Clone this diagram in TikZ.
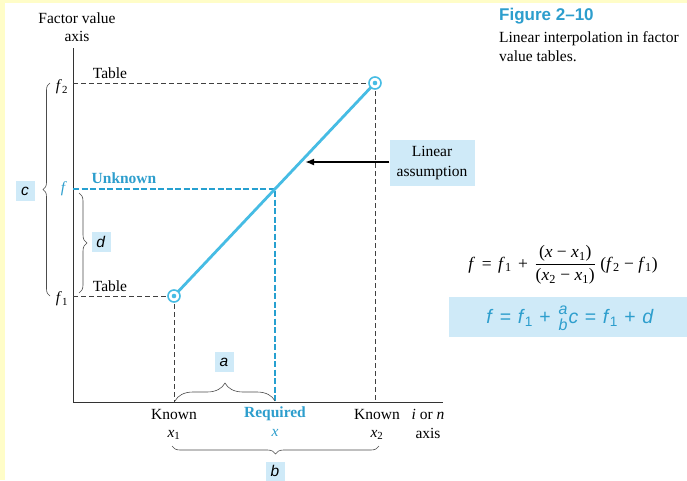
\documentclass[tikz,border=0pt]{standalone}
\usepackage{amsmath}
\usepackage{fontspec}
\setmainfont{Liberation Serif}
\setsansfont{Liberation Sans}
\usepackage{tikz}
\usetikzlibrary{arrows.meta,decorations.pathreplacing}
\definecolor{lineblue}{RGB}{70,188,228}
\definecolor{dashblue}{RGB}{38,160,208}
\definecolor{textblue}{RGB}{45,158,205}
\definecolor{boxblue}{RGB}{207,234,248}
\definecolor{paleyellow}{RGB}{255,253,200}
\newcommand{\mv}[1]{\textit{#1}}
\newcommand{\sfit}[1]{\textsf{\textit{#1}}}
\newcommand{\smallsf}[1]{\text{\fontsize{16}{16}\selectfont\sfit{#1}}}
\newcommand{\op}[1]{\hspace{6.5pt}#1\hspace{6.5pt}}

\begin{document}
\begin{tikzpicture}[x=1pt,y=-1pt,font=\fontsize{15.5}{18}\selectfont,
 lbl/.style={inner sep=0pt,align=center},
 bx/.style={fill=boxblue,inner sep=0pt,minimum width=19pt,minimum height=20pt},
 dsh/.style={line width=0.7pt,black!75,dash pattern=on 5pt off 3pt},
 bdsh/.style={line width=2.6pt,dashblue,dash pattern=on 6pt off 2.5pt},
 brc/.style={decorate,decoration={brace,amplitude=#1},line width=0.6pt,black!70},
 ar/.style={-{Latex[length=9pt,width=7pt]},line width=1.8pt},
 pt/.style={circle,draw=lineblue,fill=white,line width=1.6pt,minimum size=12pt,inner sep=0pt,
   path picture={\fill[lineblue] (path picture bounding box.center) circle (2.3pt);}}]
% frame
\useasboundingbox (0,0) rectangle (687,480);
\fill[white] (0,0) rectangle (687,480);
\fill[paleyellow] (0,0) rectangle (687,3);
\fill[paleyellow] (0,0) rectangle (5,480);

% axes
\coordinate (ytop) at (73,48);
\coordinate (o) at (73,402);
\coordinate (xend) at (443,402);
\draw[line width=0.9pt,black!80] (ytop) -- (o) -- (xend);
\node[lbl] (yax) at (77,27) {Factor value\\axis};

% points on the axes
\coordinate (y2) at (73,83);
\coordinate (yf) at (73,189);
\coordinate (y1) at (73,296);
\coordinate (x1) at (174,402);
\coordinate (xr) at (275,402);
\coordinate (x2) at (375,402);
\coordinate (pf) at (275,189);

% dashed guides
\draw[dsh] (y2) -- (375,83);
\draw[dsh] (y1) -- (174,296);
\draw[dsh] (174,296) -- (x1);
\draw[dsh] (375,83) -- (x2);
\draw[bdsh] (yf) -- (pf) -- (xr);

% linear segment and table points
\draw[lineblue,line width=2.8pt] (174,296) -- (375,83);
\node[pt] (p1) at (174,296) {};
\node[pt] (p2) at (375,83) {};

% y labels
\node[lbl] (f2) at (62,87) {\mv{f}\textsubscript{2}};
\node[lbl,textblue] (f) at (64,189) {\mv{f}};
\node[lbl] (f1) at (62,299) {\mv{f}\textsubscript{1}};
\node[lbl] (t2) at (110,73) {Table};
\node[lbl] (t1) at (110,286) {Table};
\node[lbl,textblue,font=\fontsize{15.5}{18}\selectfont\bfseries] (unk) at (124,178) {Unknown};

% braces on y side
\draw[brc=7pt] (50,296) -- (50,83);
\node[bx] (c) at (25,191) {\sfit{c}};
\draw[brc=8pt] (79,193) -- (79,293);
\node[bx] (d) at (101,242) {\sfit{d}};

% x labels
\node[lbl] (k1) at (174,414) {Known};
\node[lbl] (k1x) at (174,435) {\mv{x}\textsubscript{1}};
\node[lbl,textblue,font=\fontsize{15.5}{18}\selectfont\bfseries] (req) at (275,414) {Required};
\node[lbl,textblue] (reqx) at (275,433) {\mv{x}};
\node[lbl] (k2) at (377,414) {Known};
\node[lbl] (k2x) at (377,435) {\mv{x}\textsubscript{2}};
\node[lbl] (xax) at (428,414) {\textit{i} or \textit{n}};
\node[lbl] (xax2) at (428,433) {axis};

% braces on x side
\draw[brc=18pt] (175,401) -- (275,401);
\node[bx] (a) at (224,362) {\sfit{a}};
\draw[brc=8pt] (379,446) -- (172,446);
\node[bx,minimum height=19pt] (b) at (275,471) {\sfit{b}};

% linear assumption
\node[fill=boxblue,lbl,minimum width=85pt,minimum height=46pt,font=\fontsize{15.5}{20}\selectfont] (lin) at (432,163) {Linear\\assumption};
\coordinate (tipA) at (305,162);
\draw[ar] (lin.west |- tipA) -- (tipA);

% caption
\node[anchor=west,inner sep=0pt,textblue,font=\sffamily\bfseries\fontsize{17}{20}\selectfont] (fig) at (499,16) {Figure 2–10};
\node[anchor=north west,inner sep=0pt,align=left,font=\fontsize{15.5}{19}\selectfont] (cap) at (499,31) {Linear interpolation in factor\\value tables.};

% formulas
\node[lbl,font=\fontsize{17.5}{20}\selectfont] (eq1) at (563,265) {\mv{f}\op{=}\mv{f}\textsubscript{1}\op{+}$\dfrac{\text{(\mv{x} − \mv{x}\textsubscript{1})}}{\text{(\mv{x}\textsubscript{2} − \mv{x}\textsubscript{1})}}$ (\mv{f}\textsubscript{2} − \mv{f}\textsubscript{1})};
\node[fill=boxblue,minimum width=238pt,minimum height=40pt,inner sep=0pt] (eqbox) at (568,317) {};
\node[lbl,textblue,font=\sffamily\fontsize{19.5}{22}\selectfont] (eq2) at (570,318) {\sfit{f}\op{=}\sfit{f}\textsubscript{1}\op{+}$\genfrac{}{}{0pt}{}{\smallsf{a}}{\smallsf{b}}$\sfit{c}\op{=}\sfit{f}\textsubscript{1}\op{+}\sfit{d}};
\end{tikzpicture}
\end{document}
